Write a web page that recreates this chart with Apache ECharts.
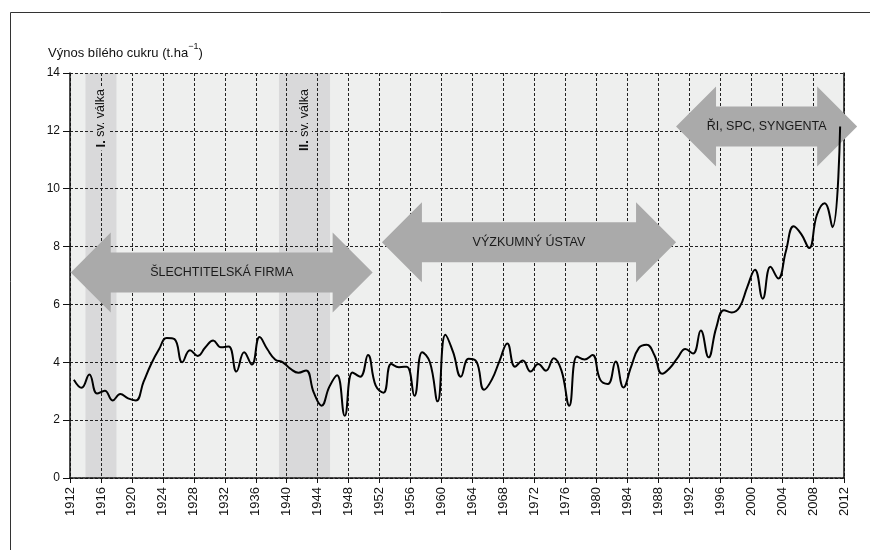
<!DOCTYPE html>
<html><head><meta charset="utf-8">
<script src="https://cdn.jsdelivr.net/npm/echarts@6/dist/echarts.min.js"></script>
<style>html,body{margin:0;padding:0;background:#fff}#c{width:870px;height:550px}</style>
</head><body><div id="c"></div>
<script>
// Yearly sugar yield (t/ha), years 1912..2011, plotted at mid-year
const yields = [
  3.40, 3.12, 3.58, 2.92, 3.02, 2.68, 2.90, 2.75, 2.68, 3.32,
  3.95, 4.45, 4.84, 4.80, 4.00, 4.42, 4.22, 4.52, 4.75, 4.52,
  4.55, 3.68, 4.35, 3.92, 4.87, 4.45, 4.10, 4.00, 3.77, 3.64,
  3.72, 2.95, 2.50, 3.15, 3.55, 2.15, 3.65, 3.50, 4.25, 3.19,
  2.95, 3.94, 3.83, 3.85, 2.84, 4.35, 4.00, 2.65, 4.95, 4.35,
  3.50, 4.12, 4.03, 3.05, 3.40, 4.05, 4.65, 3.85, 4.06, 3.68,
  3.94, 3.71, 4.14, 3.71, 2.50, 4.20, 4.10, 4.25, 3.40, 3.25,
  4.03, 3.13, 3.85, 4.50, 4.61, 4.25, 3.60, 3.80, 4.15, 4.46,
  4.30, 5.10, 4.17, 5.20, 5.80, 5.72, 5.90, 6.60, 7.20, 6.20,
  7.30, 6.90, 7.85, 8.70, 8.42, 7.95, 9.10, 9.50, 8.67, 12.15
];
const firstYear = 1912;
const years = yields.map((_, i) => firstYear + i);

const warPeriods = [[1914, 1918], [1939, 1945.6]];
const warLabels = ['I.', 'II.'];

const eraStarts = [1912.1, 1952.3, 1990.3];
const eraEnds = [1951.1, 1990.3, 2013.7];
const eraLevels = [7.1, 8.15, 12.15];
const eraLabels = ['ŠLECHTITELSKÁ FIRMA', 'VÝZKUMNÝ ÚSTAV', 'ŘI, SPC, SYNGENTA'];

const F = "'Liberation Sans', Arial, sans-serif";
const lineData = years.map((y, i) => [y + 0.5, yields[i]]);
const warData = warPeriods.map(p => [p[0], p[1]]);
const eraData = eraStarts.map((s, i) => [s, eraEnds[i], eraLevels[i]]);

const chart = echarts.init(document.getElementById('c'), null, {renderer: 'canvas'});
const dashed = {color: '#222', type: [3, 2], width: 1};

const option = {
  animation: false,
  grid: {left: 70, right: 26, top: 73, bottom: 72, show: true, backgroundColor: '#eeefee', borderWidth: 0, z: -1},
  xAxis: {
    type: 'value', min: 1912, max: 2012, interval: 4, z: 1,
    axisLine: {show: true, onZero: false, lineStyle: {color: '#111', width: 1.5, type: [3, 1]}},
    axisTick: {show: true, length: 5, lineStyle: {color: '#111'}},
    axisLabel: {rotate: 90, margin: 9, fontSize: 13, fontFamily: F, color: '#111', formatter: v => String(v)},
    splitLine: {show: true, lineStyle: dashed}
  },
  yAxis: [{
    type: 'value', min: 0, max: 14, interval: 2, z: 1,
    axisLine: {show: true, lineStyle: {color: '#111', width: 1.5}},
    axisTick: {show: true, length: 7, lineStyle: {color: '#111'}},
    axisLabel: {margin: 10, fontSize: 12, fontFamily: F, color: '#111'},
    splitLine: {show: true, lineStyle: dashed}
  }, {
    type: 'value', position: 'right', min: 0, max: 14, interval: 2, z: 1,
    axisLine: {show: true, lineStyle: {color: '#111', width: 1.5}},
    axisTick: {show: false}, axisLabel: {show: false}, splitLine: {show: false}
  }],
  graphic: [
    {type: 'rect', z: 100, shape: {x: 10.5, y: 12.5, width: 900, height: 600}, style: {fill: 'none', stroke: '#333', lineWidth: 1}},
    {type: 'text', left: 48, top: 42, z: 100, style: {
      text: '{a|Výnos bílého cukru (t.ha}{s|−1}{a|)}',
      rich: {
        a: {fontSize: 13, fontFamily: F, fill: '#111', lineHeight: 18, verticalAlign: 'bottom'},
        s: {fontSize: 9, fontFamily: F, fill: '#111', lineHeight: 10, verticalAlign: 'top'}
      }
    }}
  ],
  series: [
    {
      type: 'custom', z: 0, clip: false, data: warData, encode: {x: [0, 1]},
      renderItem: (params, api) => {
        const s = api.value(0), e = api.value(1);
        const p0 = api.coord([s, 14]), p1 = api.coord([e, 0]);
        return {type: 'rect', shape: {x: p0[0], y: p0[1], width: p1[0] - p0[0], height: p1[1] - p0[1]}, style: {fill: '#d9d9da'}};
      }
    },
    {
      type: 'custom', z: 2, clip: false, data: warData, encode: {x: [0, 1]},
      renderItem: (params, api) => {
        const s = api.value(0), e = api.value(1);
        const t = api.coord([(s + e) / 2, 13.55]);
        return {type: 'text', x: t[0], y: t[1], rotation: Math.PI / 2, style: {
          text: '{b|' + warLabels[params.dataIndex] + '}{n| sv. válka}',
          align: 'right', verticalAlign: 'middle',
          backgroundColor: '#d9d9da', padding: [1, 3],
          rich: {
            b: {fontWeight: 'bold', fontSize: 13, fontFamily: F, fill: '#111'},
            n: {fontSize: 12.5, fontFamily: F, fill: '#111'}
          }
        }};
      }
    },
    {
      type: 'custom', z: 3, clip: false, data: eraData, encode: {x: [0, 1], y: 2},
      renderItem: (params, api) => {
        const a = api.coord([api.value(0), api.value(2)]);
        const b = api.coord([api.value(1), api.value(2)]);
        const cy = a[1], hw = 40, hh = 40, sh = 20;
        const pts = [
          [a[0], cy], [a[0] + hw, cy - hh], [a[0] + hw, cy - sh], [b[0] - hw, cy - sh], [b[0] - hw, cy - hh],
          [b[0], cy], [b[0] - hw, cy + hh], [b[0] - hw, cy + sh], [a[0] + hw, cy + sh], [a[0] + hw, cy + hh]
        ];
        return {type: 'group', children: [
          {type: 'polygon', shape: {points: pts}, style: {fill: '#aaaaaa'}},
          {type: 'text', x: (a[0] + b[0]) / 2, y: cy, style: {
            text: eraLabels[params.dataIndex], align: 'center', verticalAlign: 'middle',
            fontSize: 12.5, fontFamily: F, fill: '#1a1a1a'
          }}
        ]};
      }
    },
    {
      type: 'line', z: 4, data: lineData, smooth: 0.45, symbol: 'none', showSymbol: false,
      lineStyle: {color: '#000', width: 2}
    }
  ]
};
chart.setOption(option);
</script>
</body></html>
